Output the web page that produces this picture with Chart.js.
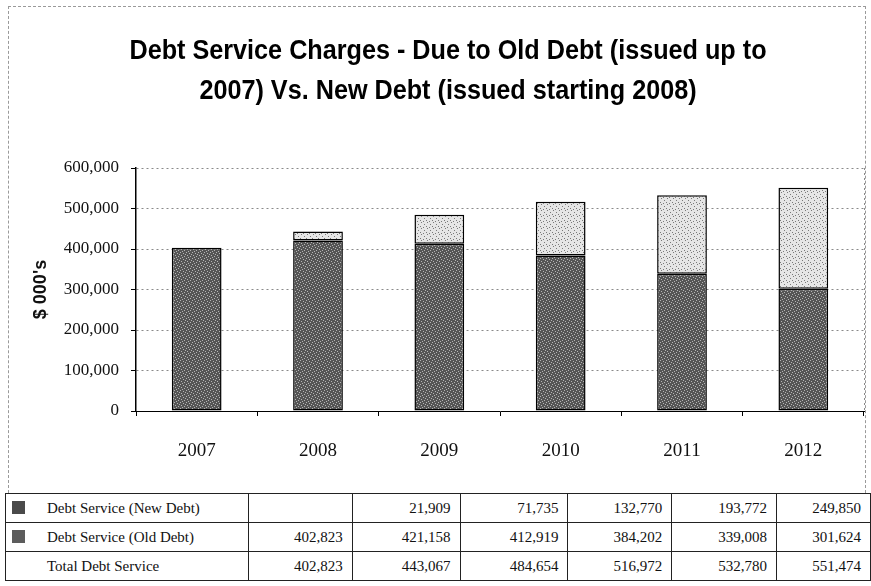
<!DOCTYPE html>
<html lang="en">
<head>
    <meta charset="UTF-8">
    <title>Debt Service Charges</title>
    <style>
        body { margin: 0; background: #fff; }
        #wrap { position: relative; width: 871px; height: 586px; overflow: hidden; }
        #frame { position: absolute; left: 8px; top: 6px; width: 856px; height: 486px; border: 1px dashed #9a9a9a; border-bottom: none; }
        #chart { position: absolute; left: 0; top: 0; }
        #tbl { position: absolute; left: 5px; top: 493px; border-collapse: collapse; table-layout: fixed;
               font-family: "Liberation Serif", "DejaVu Serif", serif; font-size: 15px; color: #111; }
        #tbl td { border: 1px solid #222; height: 28px; padding: 0 9px 0 0; text-align: right; white-space: nowrap; }
        #tbl td.lab { text-align: left; padding: 0 0 0 6px; }
        .sw { display: inline-block; width: 13px; height: 13px; margin-right: 22px; vertical-align: -1px; }
    </style>
</head>
<body>
<script src="https://cdn.jsdelivr.net/npm/chart.js@4.4.0/dist/chart.umd.min.js"></script>
<div id="wrap">
    <div id="frame"></div>
    <canvas id="chart" width="871" height="490"></canvas>
    <table id="tbl"></table>
</div>
<script>
    var years = ["2007", "2008", "2009", "2010", "2011", "2012"];
    var newDebt = [null, 21909, 71735, 132770, 193772, 249850];
    var oldDebt = [402823, 421158, 412919, 384202, 339008, 301624];
    var totalDebt = [402823, 443067, 484654, 516972, 532780, 551474];
    var rowNames = ["Debt Service (New Debt)", "Debt Service (Old Debt)", "Total Debt Service"];
    var titleLines = ["Debt Service Charges - Due to Old Debt (issued up to", "2007) Vs. New Debt (issued starting 2008)"];

    // stipple fill like the scanned bars
    function stipple(bg, dots, marks) {
        var c = document.createElement("canvas");
        c.width = 6; c.height = 6;
        var g = c.getContext("2d");
        g.fillStyle = bg;
        g.fillRect(0, 0, 6, 6);
        g.fillStyle = dots;
        for (var i = 0; i < marks.length; i++) {
            g.fillRect(marks[i][0], marks[i][1], 1, 1);
        }
        return g.createPattern(c, "repeat");
    }
    var ctx = document.getElementById("chart").getContext("2d");
    var darkFill = stipple("#555555", "#b5b5b5", [[0,0],[3,1],[1,3],[4,4],[2,5],[5,2]]);
    var lightFill = stipple("#e6e6e6", "#7a7a7a", [[1,0],[4,2],[0,4],[3,5]]);

    // right edge of plot + narrow title (the original uses a condensed face)
    var extras = {
        id: "extras",
        afterDraw: function (chart) {
            var a = chart.chartArea, g = chart.ctx;
            g.save();
            g.strokeStyle = "#8a8a8a";
            g.lineWidth = 1;
            g.setLineDash([2, 3]);
            g.beginPath();
            g.moveTo(a.right + 0.5, a.top);
            g.lineTo(a.right + 0.5, a.bottom);
            g.stroke();
            g.restore();

            g.save();
            g.fillStyle = "#000";
            g.font = "bold 28px 'Liberation Sans', Arial, sans-serif";
            g.textAlign = "center";
            g.textBaseline = "middle";
            g.translate(448, 0);
            g.scale(0.9, 1);
            g.fillText(titleLines[0], 0, 51);
            g.fillText(titleLines[1], 0, 91);
            g.restore();
        }
    };

    new Chart(ctx, {
        type: "bar",
        data: {
            labels: years,
            datasets: [
                { label: "Debt Service (Old Debt)", data: oldDebt, backgroundColor: darkFill,
                  borderColor: "#000", borderWidth: 1.5, borderSkipped: false },
                { label: "Debt Service (New Debt)", data: newDebt, backgroundColor: lightFill,
                  borderColor: "#000", borderWidth: 1.5, borderSkipped: false }
            ]
        },
        options: {
            responsive: false,
            animation: false,
            layout: { padding: { left: 0, right: 7, top: 168, bottom: 0 } },
            datasets: { bar: { categoryPercentage: 1, barPercentage: 0.41 } },
            plugins: {
                legend: { display: false },
                tooltip: { enabled: false },
                title: { display: false }
            },
            scales: {
                x: {
                    stacked: true,
                    afterFit: function (s) { s.height = 79; },
                    grid: { display: true, drawOnChartArea: false, offset: true, tickLength: 5, color: "#000" },
                    border: { display: true, color: "#000", width: 1 },
                    ticks: { color: "#111", padding: 24, font: { family: "'Liberation Serif', serif", size: 19 } }
                },
                y: {
                    stacked: true,
                    min: 0,
                    max: 600000,
                    afterFit: function (s) { s.width = 136; },
                    ticks: {
                        stepSize: 100000,
                        color: "#111",
                        padding: 12,
                        font: { family: "'Liberation Serif', serif", size: 17 },
                        callback: function (v) { return v.toLocaleString("en-US"); }
                    },
                    grid: { color: "#8a8a8a", tickLength: 5, tickColor: "#000", tickBorderDash: [0, 0] },
                    border: { display: true, color: "#000", width: 1.5, dash: [2, 3] },
                    title: {
                        display: true,
                        text: "$ 000's",
                        color: "#111",
                        font: { family: "'Liberation Sans', Arial, sans-serif", size: 18, weight: "bold" },
                        padding: { top: 30, bottom: 0 }
                    }
                }
            }
        },
        plugins: [extras]
    });

    // data table under the chart
    var widths = [243, 104, 108, 108, 104, 105, 94];
    var tbl = document.getElementById("tbl");
    var cg = document.createElement("colgroup");
    widths.forEach(function (w) {
        var col = document.createElement("col");
        col.style.width = w + "px";
        cg.appendChild(col);
    });
    tbl.appendChild(cg);
    var rows = [newDebt, oldDebt, totalDebt];
    var swatch = ["#4a4a4a", "#5c5c5c", null];
    for (var r = 0; r < rows.length; r++) {
        var tr = document.createElement("tr");
        var td = document.createElement("td");
        td.className = "lab";
        if (swatch[r]) {
            var sp = document.createElement("span");
            sp.className = "sw";
            sp.style.background = swatch[r];
            td.appendChild(sp);
        } else {
            td.style.paddingLeft = "41px";
        }
        td.appendChild(document.createTextNode(rowNames[r]));
        tr.appendChild(td);
        for (var i = 0; i < years.length; i++) {
            var c = document.createElement("td");
            c.textContent = rows[r][i] == null ? "" : rows[r][i].toLocaleString("en-US");
            tr.appendChild(c);
        }
        tbl.appendChild(tr);
    }
</script>
</body>
</html>
